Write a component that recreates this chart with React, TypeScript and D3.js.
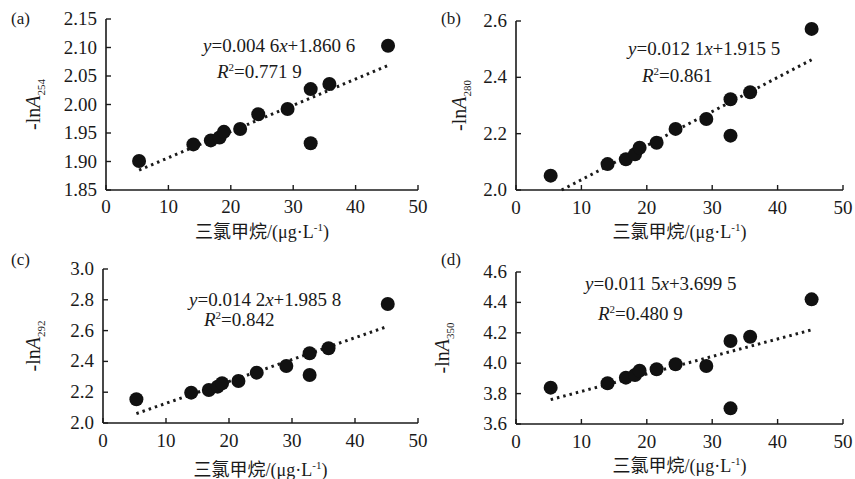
import React from "react";
import * as d3 from "d3";

const concentrations = [5.3, 14.0, 16.8, 18.2, 18.9, 21.5, 24.4, 29.1, 32.8, 32.8, 35.8, 45.2];
const valuesA254 = [1.901, 1.930, 1.937, 1.942, 1.952, 1.957, 1.983, 1.992, 2.027, 1.932, 2.036, 2.103];
const valuesA280 = [2.051, 2.092, 2.109, 2.127, 2.150, 2.168, 2.217, 2.252, 2.322, 2.193, 2.347, 2.572];
const valuesA292 = [2.154, 2.197, 2.214, 2.236, 2.258, 2.273, 2.327, 2.370, 2.453, 2.312, 2.485, 2.773];
const valuesA350 = [3.839, 3.868, 3.905, 3.922, 3.951, 3.960, 3.993, 3.982, 4.146, 3.703, 4.174, 4.420];

const xTicks = [0, 10, 20, 30, 40, 50];
const yTicksA = [1.85, 1.9, 1.95, 2.0, 2.05, 2.1, 2.15];
const yTicksB = [2.0, 2.2, 2.4, 2.6];
const yTicksC = [2.0, 2.2, 2.4, 2.6, 2.8, 3.0];
const yTicksD = [3.6, 3.8, 4.0, 4.2, 4.4, 4.6];

const panelLetters = ["(a)", "(b)", "(c)", "(d)"];
const wavelengths = ["254", "280", "292", "350"];
const slopes = [0.0046, 0.0121, 0.0142, 0.0115];
const intercepts = [1.8606, 1.9155, 1.9858, 3.6995];
const slopeText = ["0.004 6", "0.012 1", "0.014 2", "0.011 5"];
const interceptText = ["1.860 6", "1.915 5", "1.985 8", "3.699 5"];
const r2Text = ["0.771 9", "0.861", "0.842", "0.480 9"];
const xTitle = "三氯甲烷/(μg·L";

const FONT = "Liberation Serif, Times New Roman, DejaVu Serif, Noto Sans CJK SC, serif";

type Layout = {
  x0: number; x1: number; yTop: number; yBot: number;
  labelX: number; letterX: number; letterY: number;
  eqX: number; eqY: number; r2X: number; r2Y: number;
  tickLabelY: number; titleY: number;
  yFmt: string;
};

const layouts: Layout[] = [
  { x0: 106, x1: 418, yTop: 19, yBot: 190, labelX: 40, letterX: 11, letterY: 24, eqX: 203, eqY: 52, r2X: 217, r2Y: 78, tickLabelY: 213, titleY: 238, yFmt: ".2f" },
  { x0: 516, x1: 843, yTop: 21, yBot: 190, labelX: 466, letterX: 441, letterY: 24, eqX: 628, eqY: 55, r2X: 642, r2Y: 82, tickLabelY: 214, titleY: 238, yFmt: ".1f" },
  { x0: 103, x1: 418, yTop: 269, yBot: 423, labelX: 40, letterX: 11, letterY: 265, eqX: 189, eqY: 306, r2X: 204, r2Y: 326, tickLabelY: 447, titleY: 476, yFmt: ".1f" },
  { x0: 516, x1: 843, yTop: 272, yBot: 424, labelX: 449, letterX: 441, letterY: 265, eqX: 585, eqY: 290, r2X: 598, r2Y: 320, tickLabelY: 448, titleY: 472, yFmt: ".1f" },
];

const seriesValues = [valuesA254, valuesA280, valuesA292, valuesA350];
const yTickSets = [yTicksA, yTicksB, yTicksC, yTicksD];

function Panel({ i }: { i: number }) {
  const L = layouts[i];
  const yTicks = yTickSets[i];
  const vals = seriesValues[i];
  const x = d3.scaleLinear().domain([0, 50]).range([L.x0, L.x1]);
  const y = d3.scaleLinear().domain([yTicks[0], yTicks[yTicks.length - 1]]).range([L.yBot, L.yTop]);
  const m = slopes[i];
  const b = intercepts[i];
  const xmin = d3.min(concentrations) as number;
  const xmax = d3.max(concentrations) as number;
  const xStart = Math.max(xmin, (yTicks[0] - b) / m);
  const line = d3.line<number>().x((d) => x(d)).y((d) => y(m * d + b));
  const fmt = d3.format(L.yFmt);
  const fs = 19;
  return (
    <g fill="#1a1a1a">
      <text x={L.letterX} y={L.letterY} fontSize={17}>{panelLetters[i]}</text>
      <line x1={L.x0} x2={L.x0} y1={L.yTop} y2={L.yBot} stroke="#1a1a1a" strokeWidth={1.6} />
      {yTicks.map((t) => (
        <g key={t}>
          <line x1={L.x0} x2={L.x0 + 5} y1={y(t)} y2={y(t)} stroke="#1a1a1a" strokeWidth={1.4} />
          <text x={L.x0 - 9} y={y(t) + 6} textAnchor="end" fontSize={fs}>{fmt(t)}</text>
        </g>
      ))}
      <line x1={L.x0} x2={L.x1} y1={L.yBot} y2={L.yBot} stroke="#1a1a1a" strokeWidth={1.6} />
      {xTicks.map((t) => (
        <g key={t}>
          <line x1={x(t)} x2={x(t)} y1={L.yBot} y2={L.yBot - 5} stroke="#1a1a1a" strokeWidth={1.4} />
          <text x={x(t)} y={L.tickLabelY} textAnchor="middle" fontSize={fs}>{t}</text>
        </g>
      ))}
      <text x={(L.x0 + L.x1) / 2} y={L.titleY} textAnchor="middle" fontSize={18}>
        {xTitle}
        <tspan dy={-7} fontSize={11}>-1</tspan>
        <tspan dy={7}>)</tspan>
      </text>
      <text transform={`translate(${L.labelX},${(L.yTop + L.yBot) / 2}) rotate(-90)`} textAnchor="middle" fontSize={20}>
        -ln<tspan fontStyle="italic">A</tspan>
        <tspan dy={5} fontSize={11}>{wavelengths[i]}</tspan>
      </text>
      <path d={line([xStart, xmax]) || ""} fill="none" stroke="#1a1a1a" strokeWidth={3} strokeDasharray="2.5,4" />
      {concentrations.map((c, k) => (
        <circle key={k} cx={x(c)} cy={y(vals[k])} r={7} fill="#111" />
      ))}
      <text x={L.eqX} y={L.eqY} fontSize={19}>
        <tspan fontStyle="italic">y</tspan>={slopeText[i]}<tspan fontStyle="italic">x</tspan>+{interceptText[i]}
      </text>
      <text x={L.r2X} y={L.r2Y} fontSize={19}>
        <tspan fontStyle="italic">R</tspan>
        <tspan dy={-7} fontSize={11}>2</tspan>
        <tspan dy={7}>={r2Text[i]}</tspan>
      </text>
    </g>
  );
}

export default function App() {
  return (
    <svg width={855} height={479} fontFamily={FONT} style={{ position: "absolute", left: 0, top: 0, background: "#fff", fontFamily: FONT }}>
      <rect width={855} height={479} fill="#fff" />
      {[0, 1, 2, 3].map((i) => (
        <Panel key={i} i={i} />
      ))}
    </svg>
  );
}
